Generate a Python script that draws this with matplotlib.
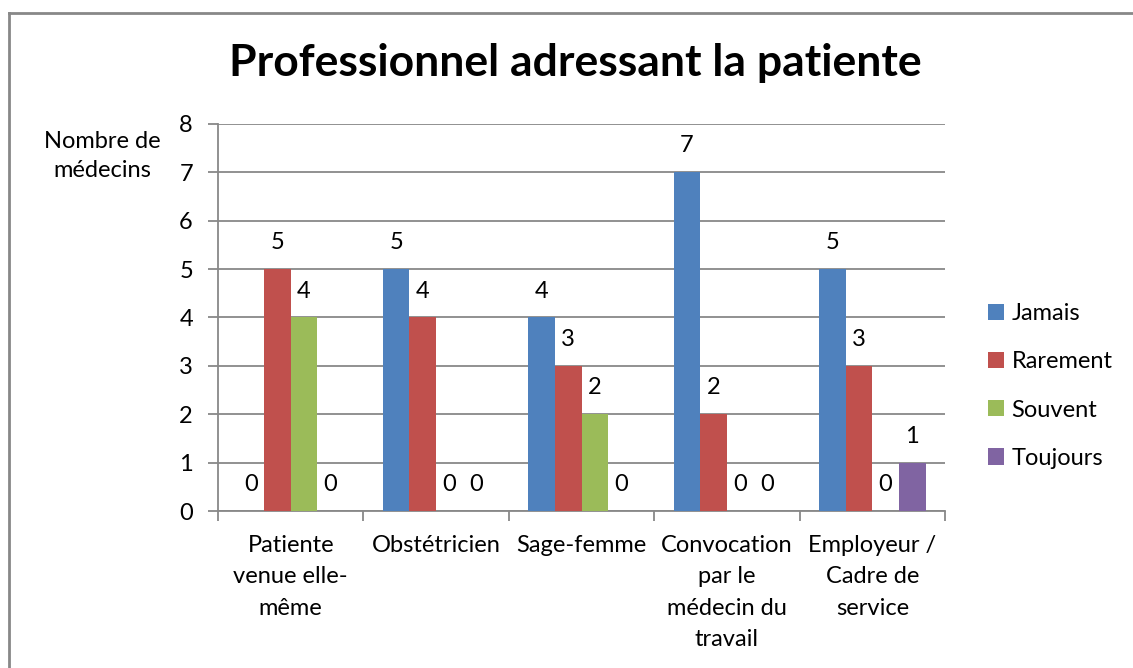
import numpy as np
import matplotlib
matplotlib.use('Agg')
import matplotlib.pyplot as plt
from matplotlib.lines import Line2D

plt.rcParams['font.family'] = ['Lato', 'DejaVu Sans']

# data
categories = ['Patiente\nvenue elle-\nmême', 'Obstétricien', 'Sage-femme',
              'Convocation\npar le\nmédecin du\ntravail', 'Employeur /\nCadre de\nservice']
series = ['Jamais', 'Rarement', 'Souvent', 'Toujours']
jamais = [0, 5, 4, 7, 5]
rarement = [5, 4, 3, 2, 3]
souvent = [4, 0, 2, 0, 0]
toujours = [0, 0, 0, 0, 1]
colors = ['#4F81BD', '#C0504D', '#9BBB59', '#8064A2']

values = [jamais, rarement, souvent, toujours]
fs = 17

fig = plt.figure(figsize=(11.33, 6.68), dpi=100)
ax = fig.add_axes([218/1133, 1-511/668, (945-218)/1133, (511-124)/668])

x = np.arange(len(categories))
w = 0.183
grey = '#888888'
for i, (name, vals, c) in enumerate(zip(series, values, colors)):
    pos = x + (i - 1.5) * w
    ax.bar(pos, vals, width=w, color=c, label=name, zorder=3)
    for px, v in zip(pos, vals):
        ax.annotate(str(v), (px, v), xytext=(0, 19), textcoords='offset points',
                    ha='center', va='center', fontsize=fs, color='black')

ax.set_xlim(-0.5, len(categories) - 0.5)
ax.set_ylim(0, 8)
ax.set_yticks(range(0, 9))
ax.yaxis.grid(True, color=grey, linewidth=1.3, zorder=0)
ax.set_axisbelow(True)

ax.set_xticks(x)
ax.set_xticklabels(categories, fontsize=fs, linespacing=1.62)
ax.set_xticks(np.arange(-0.5, len(categories)), minor=True)
ax.tick_params(axis='x', which='major', length=0, pad=17)
ax.tick_params(axis='x', which='minor', length=7, color=grey, width=1.3, direction='out')
ax.tick_params(axis='y', labelsize=fs, length=7, color=grey, width=1.3, pad=11)

for s in ['top', 'right']:
    ax.spines[s].set_visible(False)
for s in ['left', 'bottom']:
    ax.spines[s].set_color(grey)
    ax.spines[s].set_linewidth(1.3)

fig.text(102/1133, 1-156/668, 'Nombre de\nmédecins', ha='center', va='center',
         fontsize=fs, linespacing=1.5)

fig.text(575/1133, 1-63/668, 'Professionnel adressant la patiente', ha='center',
         va='center', fontsize=32, fontweight='bold')

fig.legend(loc='center left', bbox_to_anchor=(967/1133, 1-386/668), frameon=False,
           fontsize=fs, handlelength=0.68, handleheight=0.68, handletextpad=0.3,
           labelspacing=1.15)

# outer chart border (top and left edges visible)
fig.add_artist(Line2D([9/1133, 1], [1-13/668, 1-13/668], color=grey, linewidth=2,
                      transform=fig.transFigure))
fig.add_artist(Line2D([9/1133, 9/1133], [0, 1-13/668], color=grey, linewidth=2,
                      transform=fig.transFigure))

fig.savefig('out.png', dpi=100)
